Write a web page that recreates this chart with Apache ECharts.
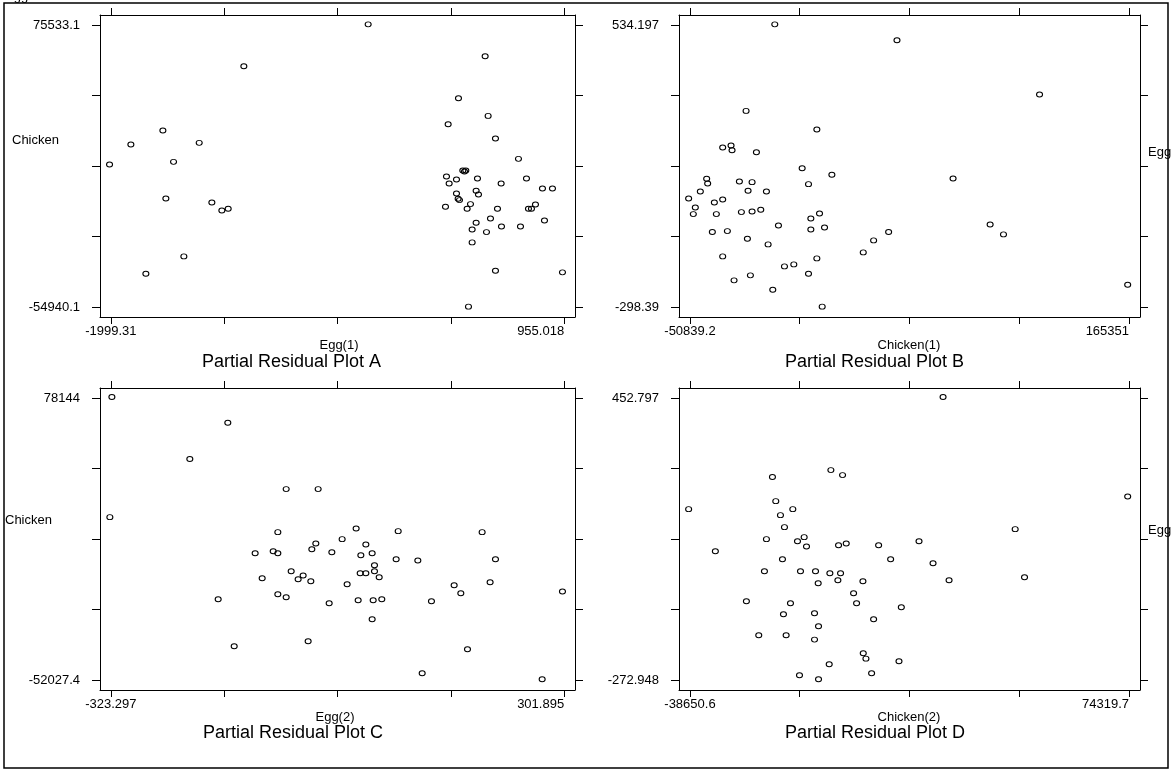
<!DOCTYPE html>
<html>
<head>
<meta charset="utf-8">
<script src="https://cdn.jsdelivr.net/npm/echarts@6/dist/echarts.min.js"></script>
<style>
html, body { margin: 0; background: #fff; }
#main { width: 1172px; height: 773px; }
</style>
</head>
<body>
<div id="main"></div>
<script>
// Plot A: Egg(1) vs Chicken
const aX = [-322.3, 440.2, -1132.6, 266.4, 459.7, 199.1, -1660.4, 507.5, -1869.0, -1423.6,
  657.4, -1590.9, -2008.0, 305.5, 294.6, 314.2, 188.2, 253.4, 390.2, 709.6,
  205.6, 544.5, 813.8, 879.0, 381.5, 396.7, 253.4, 264.2, 272.9, -1640.9,
  -1341.1, 344.6, 768.2, 181.7, 322.9, 520.6, 722.6, 742.1, -1275.9, -1234.7,
  475.0, 826.9, 381.5, 546.7, 670.5, 355.5, 448.9, 355.5, -1523.6, -1771.2,
  507.5, 944.2, 331.6]
const aY = [75841, 61053, 56432, 41644, 33480, 29629, 26702, 23006, 20233, 21003,
  13609, 12223, 10990, 7756, 8218, 8218, 5445, 4059, 4521, 4521,
  2210, 2210, -101, -101, -1179, -2873, -2411, -4876, -5492, -4722,
  -6570, -7340, -7495, -8573, -9497, -9497, -9497, -9497, -10267, -9497,
  -13964, -14888, -15967, -17661, -17661, -19048, -20280, -25055, -31525, -39535,
  -38148, -38919, -54785]

// Plot B: Chicken(1) vs Egg
const bX = [-9080.8, 51090.7, 121290.8, -23219.5, 11633.9, -34727.7, -30617.6, -30124.4, -18123.0, 4400.2,
  19032.1, 78710.4, -42619.0, -42125.8, -26507.6, -20260.2, 7523.9, -45742.7, -22233.1, -13190.9,
  -51496.8, -34727.7, -38837.8, -48208.8, -49195.2, -37851.4, -25521.1, -20260.2, -15985.8, 12949.2,
  8674.7, -7272.4, 8674.7, 15415.2, -39824.2, -32426.1, 46980.6, 96959.1, 103535.2, -22561.9,
  39582.5, -12368.9, 34486.0, -34727.7, 11633.9, -4313.2, 290.1, 7523.9, -21082.3, -29138.0,
  -10067.2, 14264.4, 164693.1]
const bY = [536.2, 489.0, 328.8, 280.6, 225.5, 172.5, 178.4, 164.6, 158.7, 111.5,
  91.9, 81.0, 80.1, 66.3, 72.2, 70.2, 64.3, 42.7, 44.7, 42.7,
  22.1, 19.1, 10.3, -4.5, -24.1, -24.1, -18.2, -16.3, -11.4, -22.2,
  -36.9, -57.6, -69.4, -63.5, -77.2, -74.3, -77.2, -54.6, -84.1, -96.9,
  -101.8, -113.6, -137.2, -149.0, -154.9, -178.5, -172.6, -200.1, -205.0, -219.8,
  -247.3, -297.4, -232.5]

// Plot C: Egg(2) vs Chicken
const cX = [-321.9, -162.0, -214.4, -81.5, -37.4, -324.7, 15.0, -93.0, 73.0, 188.8,
  -4.3, -40.6, 28.4, -46.1, -124.3, -99.4, -93.0, -18.5, 21.5, 37.1,
  70.2, 100.1, 207.2, 40.3, -74.6, 40.3, 20.6, 28.4, -58.1, -65.0,
  46.8, -47.5, -114.6, 2.6, 199.8, 150.2, 299.6, 159.4, -93.0, -81.5,
  -175.3, 17.8, 38.5, 50.4, -22.2, 118.9, 37.1, -51.2, -153.2, 168.6,
  106.1, 271.6]
const cY = [78606, 66744, 49953, 36089, 36089, 23149, 17911, 16216, 16678, 16216,
  12981, 10979, 10516, 8360, 6511, 7435, 6511, 6973, 5587, 6511,
  3738, 3122, 3738, 965, -1807, -1807, -2732, -2732, -3810, -5505,
  -4580, -6429, -5042, -7815, -6891, -8277, -11204, -11975, -12437, -13823,
  -14748, -15210, -15210, -14748, -16596, -15672, -23991, -34158, -36469, -37856,
  -48946, -51719]

// Plot D: Chicken(2) vs Egg
const dX = [26468.4, -2397.0, 609.8, -17431.1, 73976.1, -16572.0, -38994.2, -12190.6, -15369.3, -14338.4,
  45024.8, -18977.4, -9269.7, -10987.9, -8668.4, 20283.0, -421.1, 1554.8, 9888.0, -32121.5,
  -14853.8, 12980.7, 23891.2, -19492.9, -10214.7, -6348.8, -2654.7, 94.4, -592.9, -5661.5,
  5850.3, 28014.8, 47430.2, 3444.8, -24132.0, -12792.0, 4218.0, 15729.8, -14596.1, -6606.5,
  8599.4, -5575.6, -20953.3, -13908.8, -6606.5, 5936.2, 6623.4, 15128.4, -2826.5, -10472.4,
  -5575.6, 8083.9]
const dY = [455.4, 267.3, 254.4, 249.3, 199.4, 187.4, 166.8, 166.8, 151.3, 120.4,
  115.3, 89.5, 94.7, 84.3, 70.6, 84.3, 74.0, 78.3, 74.0, 58.6,
  38.0, 38.0, 27.7, 7.1, 7.1, 7.1, 1.9, 1.9, -16.1, -23.9,
  -18.7, -16.1, -8.4, -49.6, -70.3, -75.4, -75.4, -85.7, -103.8, -101.2,
  -116.6, -134.7, -157.9, -157.9, -169.0, -204.2, -218.0, -224.9, -232.6, -260.9,
  -271.2, -255.8]

// axis end labels (min, max)
const aXRange = [-1999.31, 955.018], aYRange = [-54940.1, 75533.1]
const bXRange = [-50839.2, 165351], bYRange = [-298.39, 534.197]
const cXRange = [-323.297, 301.895], cYRange = [-52027.4, 78144]
const dXRange = [-38650.6, 74319.7], dYRange = [-272.948, 452.797]

const xNames = ['Egg(1)', 'Chicken(1)', 'Egg(2)', 'Chicken(2)']
const titles = ['Partial Residual Plot A', 'Partial Residual Plot B', 'Partial Residual Plot C', 'Partial Residual Plot D']

const FONT = '"Liberation Sans", Arial, Helvetica, sans-serif'

const panels = [
  { x: aX, y: aY, xr: aXRange, yr: aYRange, left: 100, top: 15, width: 475, padX: 0.024 },
  { x: bX, y: bY, xr: bXRange, yr: bYRange, left: 679, top: 15, width: 461, padX: 0.025 },
  { x: cX, y: cY, xr: cXRange, yr: cYRange, left: 100, top: 388, width: 475, padX: 0.024 },
  { x: dX, y: dY, xr: dXRange, yr: dYRange, left: 679, top: 388, width: 461, padX: 0.025 }
]
const H = 302, padY = 0.0355

const ticks5 = (r) => [0, 1, 2, 3, 4].map(k => r[0] + k * (r[1] - r[0]) / 4)
const lineStyle = { color: '#000', width: 1 }
const labelStyle = { color: '#000', fontSize: 13, fontFamily: FONT }

const grid = [], xAxis = [], yAxis = [], series = []
panels.forEach((p, i) => {
  grid.push({ left: p.left, top: p.top, width: p.width, height: H })
  const xs = (p.xr[1] - p.xr[0]) * p.padX
  const ys = (p.yr[1] - p.yr[0]) * padY
  const xmin = p.xr[0] - xs, xmax = p.xr[1] + xs
  const ymin = p.yr[0] - ys, ymax = p.yr[1] + ys
  const base = { gridIndex: i, type: 'value', min: xmin, max: xmax, splitLine: { show: false } }
  // bottom axis with ticks + min label
  xAxis.push(Object.assign({}, base, {
    position: 'bottom',
    axisLine: { show: true, onZero: false, lineStyle },
    axisTick: { show: true, customValues: ticks5(p.xr), length: 7, lineStyle },
    axisLabel: Object.assign({ customValues: [p.xr[0]], formatter: v => String(v), margin: 8 }, labelStyle)
  }))
  // bottom axis for the max label only
  xAxis.push(Object.assign({}, base, {
    position: 'bottom',
    axisLine: { show: false },
    axisTick: { show: false },
    axisLabel: Object.assign({ customValues: [p.xr[1]], formatter: v => String(v), margin: 8, align: 'right' }, labelStyle)
  }))
  // top frame axis
  xAxis.push(Object.assign({}, base, {
    position: 'top',
    axisLine: { show: true, onZero: false, lineStyle },
    axisTick: { show: true, customValues: ticks5(p.xr), length: 7, lineStyle },
    axisLabel: { show: false }
  }))
  const ybase = { gridIndex: i, type: 'value', min: ymin, max: ymax, splitLine: { show: false } }
  yAxis.push(Object.assign({}, ybase, {
    position: 'left',
    axisLine: { show: true, onZero: false, lineStyle },
    axisTick: { show: true, customValues: ticks5(p.yr), length: 8, lineStyle },
    axisLabel: Object.assign({ customValues: [p.yr[0], p.yr[1]], formatter: v => String(v), margin: 20 }, labelStyle)
  }))
  yAxis.push(Object.assign({}, ybase, {
    position: 'right',
    axisLine: { show: true, onZero: false, lineStyle },
    axisTick: { show: true, customValues: ticks5(p.yr), length: 8, lineStyle },
    axisLabel: { show: false }
  }))
  series.push({
    type: 'scatter',
    xAxisIndex: i * 3,
    yAxisIndex: i * 2,
    data: p.x.map((v, k) => [v, p.y[k]]),
    symbol: 'circle',
    symbolSize: [6, 5],
    itemStyle: { color: 'rgba(0,0,0,0)', borderColor: '#000', borderWidth: 1, opacity: 1 },
    emphasis: { disabled: true },
    silent: true
  })
})

const txt = (text, x, y, size, align) => ({
  type: 'text', x, y, silent: true,
  style: { text, fill: '#000', font: size + 'px ' + FONT, align: align || 'center', verticalAlign: 'middle', textAlign: align || 'center', textVerticalAlign: 'middle' }
})

const graphic = [
  { type: 'rect', silent: true, shape: { x: 4, y: 3, width: 1164, height: 765 }, style: { fill: 'none', stroke: '#000', lineWidth: 1.5 } },
  txt('Egg', 5, -4, 13, 'left'),
  txt('Chicken', 12, 140, 13, 'left'),
  txt('Chicken', 5, 520, 13, 'left'),
  txt('Egg', 1148, 152, 13, 'left'),
  txt('Egg', 1148, 530, 13, 'left'),
  txt(xNames[0], 339, 345, 13),
  txt(xNames[1], 909, 345, 13),
  txt(xNames[2], 335, 717, 13),
  txt(xNames[3], 909, 717, 13),
  txt(titles[0], 202, 362, 18, 'left'),
  txt(titles[1], 785, 362, 18, 'left'),
  txt(titles[2], 203, 733, 18, 'left'),
  txt(titles[3], 785, 733, 18, 'left')
]

const myChart = echarts.init(document.getElementById('main'), null, { renderer: 'canvas' })
myChart.setOption({
  animation: false,
  backgroundColor: '#fff',
  grid, xAxis, yAxis, series, graphic
})
</script>
</body>
</html>
